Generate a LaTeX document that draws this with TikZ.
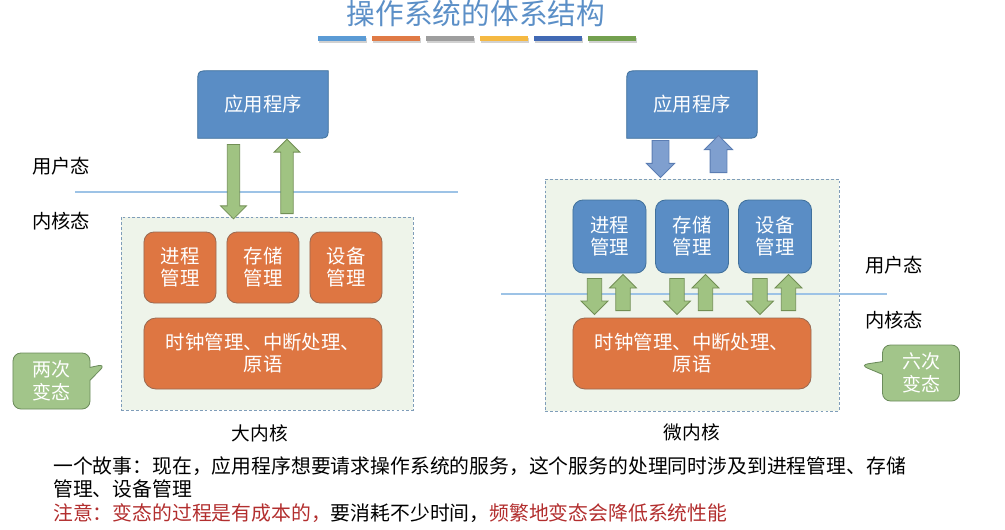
\documentclass[tikz,border=0pt]{standalone}
\usepackage{fontspec}
\setmainfont{Noto Sans CJK SC}
\usepackage{tikz}
\usetikzlibrary{arrows.meta,positioning,shapes.arrows,shapes.callouts,backgrounds}
\definecolor{titleblue}{HTML}{5B8FC7}
\definecolor{appblue}{HTML}{5A8DC5}
\definecolor{appline}{HTML}{41719C}
\definecolor{mgrorange}{HTML}{DE7642}
\definecolor{mgrline}{HTML}{9A6A52}
\definecolor{kernfill}{HTML}{EEF4EA}
\definecolor{kernline}{HTML}{7F9DB9}
\definecolor{modeline}{HTML}{9DC3E6}
\definecolor{arrgreen}{HTML}{A0C382}
\definecolor{arrgreenline}{HTML}{728F55}
\definecolor{arrblue}{HTML}{7F9FCF}
\definecolor{arrblueline}{HTML}{5B7DB3}
\definecolor{tipgreen}{HTML}{A2C58A}
\definecolor{tipline}{HTML}{6C8C5C}
\definecolor{notered}{HTML}{B22E2E}
\definecolor{barA}{HTML}{5B9BD5}
\definecolor{barB}{HTML}{E07A45}
\definecolor{barC}{HTML}{9E9E9E}
\definecolor{barD}{HTML}{F5B942}
\definecolor{barE}{HTML}{4169B4}
\definecolor{barF}{HTML}{73A04F}

\newcommand{\appshape}[1]{%
  \begin{pgfonlayer}{background}
  \filldraw[fill=appblue, draw=appline, line width=0.6pt]
    (#1.south west) -- ([yshift=-0.33cm]#1.north west)
    .. controls (#1.north west) .. ([xshift=0.33cm]#1.north west)
    -- (#1.north east) -- ([yshift=0.33cm]#1.south east)
    .. controls (#1.south east) .. ([xshift=-0.33cm]#1.south east) -- cycle;
  \end{pgfonlayer}}

\begin{document}
\begin{tikzpicture}[x=0.025cm, y=-0.025cm,
    every node/.style={font=\fontsize{13.8}{15.6}\selectfont},
    appbox/.style={minimum width=3.25cm, minimum height=1.675cm, inner sep=0pt, text=white},
    kernbox/.style={draw=kernline, dash pattern=on 2pt off 1.5pt, fill=kernfill, inner sep=0pt},
    mgrbox/.style={draw=mgrline, fill=mgrorange, line width=0.6pt, rounded corners=0.25cm, minimum width=1.8cm, minimum height=1.775cm, inner sep=0pt, align=center, text=white},
    srvbox/.style={mgrbox, draw=appline, fill=appblue, minimum width=1.825cm, minimum height=1.825cm},
    corebox/.style={mgrbox, rounded corners=0.3cm, minimum width=5.95cm},
    blkarrow/.style={single arrow, anchor=tail, text height=0pt, text depth=0pt, inner xsep=0pt, line width=0.6pt},
    bigarrow/.style={blkarrow, fill=arrgreen, draw=arrgreenline, minimum height=1.86cm, inner ysep=0.144cm, single arrow head extend=0.169cm},
    bluearrow/.style={blkarrow, fill=arrblue, draw=arrblueline, minimum height=0.925cm, inner ysep=0.2cm, single arrow head extend=0.14cm},
    smallarrow/.style={blkarrow, fill=arrgreen, draw=arrgreenline, minimum height=0.9cm, inner ysep=0.169cm, single arrow head extend=0.156cm},
    tipnote/.style={rectangle callout, draw=tipline, fill=tipgreen, line width=0.6pt, rounded corners=0.2cm, minimum width=1.925cm, minimum height=1.4cm, inner sep=0pt, align=center, text=white, callout pointer width=0.32cm, font=\fontsize{13.5}{16.3}\selectfont},
    modetext/.style={font=\fontsize{13.7}{16}\selectfont},
    storytext/.style={anchor=west, inner sep=0pt, font=\fontsize{14.1}{16.7}\selectfont}]
  \useasboundingbox (0,0) rectangle (1005,529);

  \node[text=titleblue, font=\fontsize{20.4}{22}\selectfont] (title) at (476,14) {操作系统的体系结构};
  \foreach \c [count=\i from 0] in {barA,barB,barC,barD,barE,barF}{
    \fill[black!18] (319+54*\i,38) rectangle ++(48,5);
    \fill[\c] (318+54*\i,36) rectangle ++(48,5);
  }

  % big kernel
  \node[kernbox, minimum width=7.3cm, minimum height=4.825cm] (kernL) at (267,313.5) {};
  \draw[modeline, line width=0.8pt] (75,192) -- (458,192);
  \node[appbox] (appL) at (263,104.5) {应用程序};
  \appshape{appL}
  \node[bigarrow, rotate=-90] (downL) at (233.5,144) {};
  \node[bigarrow, rotate=90] (upL) at (287,214) {};
  \node[mgrbox] (procL) at (180,267.5) {进程\\管理};
  \node[mgrbox] (memL) at (263,267.5) {存储\\管理};
  \node[mgrbox] (devL) at (346,267.5) {设备\\管理};
  \node[corebox] (coreL) at (263,353.5) {时钟管理、中断处理、\\原语};
  \node[modetext] (userL) at (61,166) {用户态};
  \node[modetext] (kernTxtL) at (61,221) {内核态};
  \coordinate (ptL) at (106,364);
  \node[tipnote, callout absolute pointer=(ptL)] (twoT) at (51.5,381) {两次\\变态};
  \node[modetext, font=\fontsize{13.3}{16}\selectfont] (capL) at (260,433) {大内核};

  % micro kernel
  \node[kernbox, minimum width=7.35cm, minimum height=5.8cm] (kernR) at (692,295) {};
  \draw[modeline, line width=0.8pt] (501,294) -- (887,294);
  \node[appbox] (appR) at (692,104.5) {应用程序};
  \appshape{appR}
  \node[bluearrow, rotate=-90] (downR) at (660.5,140) {};
  \node[bluearrow, rotate=90] (upR) at (718.5,173) {};
  \node[srvbox] (procR) at (609.5,236.5) {进程\\管理};
  \node[srvbox] (memR) at (692,236.5) {存储\\管理};
  \node[srvbox] (devR) at (775,236.5) {设备\\管理};
  \foreach \cx in {609.5,692,775}{
    \node[smallarrow, rotate=-90] (dn\cx) at (\cx-15,278) {};
    \node[smallarrow, rotate=90] (up\cx) at (\cx+13.5,311) {};
  }
  \node[corebox] (coreR) at (692,353.5) {时钟管理、中断处理、\\原语};
  \node[modetext] (userR) at (894,265) {用户态};
  \node[modetext] (kernTxtR) at (894,320) {内核态};
  \coordinate (ptR) at (860,365);
  \node[tipnote, callout absolute pointer=(ptR)] (sixT) at (921,373) {六次\\变态};
  \node[modetext, font=\fontsize{13.3}{16}\selectfont] (capR) at (692,432) {微内核};

  % story
  \node[storytext] (story1) at (53,466) {一个故事：现在，应用程序想要请求操作系统的服务，这个服务的处理同时涉及到进程管理、存储};
  \node[storytext] (story2) at (53,489) {管理、设备管理};
  \node[storytext] (story3) at (53,513) {{\color{notered}注意：变态的过程是有成本的，}要消耗不少时间，{\color{notered}频繁地变态会降低系统性能}};
\end{tikzpicture}
\end{document}
